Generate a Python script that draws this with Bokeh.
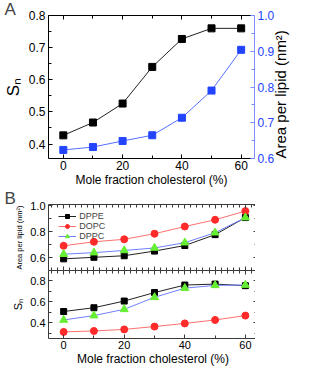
import math
from bokeh.plotting import figure
from bokeh.models import (Range1d, LinearAxis, SingleIntervalTicker, Legend, LegendItem,
                          Title, PrintfTickFormatter, CustomJSTickFormatter)
from bokeh.layouts import column
from bokeh.embed import file_html
from bokeh.resources import INLINE

# ---------------- data ----------------
chol = [0, 10, 20, 30, 40, 50, 60]
a_sn = [0.427, 0.467, 0.526, 0.640, 0.727, 0.760, 0.760]
a_area = [0.624, 0.632, 0.649, 0.665, 0.714, 0.790, 0.904]

b_area_dppe = [0.590, 0.602, 0.614, 0.650, 0.693, 0.777, 0.909]
b_area_dopc = [0.691, 0.722, 0.741, 0.784, 0.840, 0.892, 0.959]
b_area_dppc = [0.626, 0.638, 0.655, 0.674, 0.715, 0.792, 0.909]

b_sn_dppe = [0.508, 0.544, 0.608, 0.689, 0.761, 0.770, 0.755]
b_sn_dopc = [0.313, 0.322, 0.337, 0.364, 0.394, 0.427, 0.469]
b_sn_dppc = [0.427, 0.469, 0.529, 0.644, 0.731, 0.758, 0.761]

series_names = ["DPPE", "DOPC", "DPPC"]

FONT = "Liberation Sans"
BLUE = "#2244ff"
BLUE_LINE = "#5570ff"
BLUE_AXIS = "#7b8fff"
RED = "#ff2a2a"
RED_LINE = "#ff7070"
GREEN = "#66ee33"
GREEN_LINE = "#7080ff"
B_AXIS = "#3a3a3a"


def style_axis(ax, color, label_size, show_labels=True, label_color=None,
               axis_label_size=None):
    ax.axis_line_color = color
    ax.axis_line_width = 1
    ax.major_tick_line_color = color
    ax.minor_tick_line_color = color
    ax.major_tick_in = 4
    ax.major_tick_out = 0
    ax.minor_tick_in = 3
    ax.minor_tick_out = 0
    ax.major_label_text_font = FONT
    ax.major_label_text_color = label_color or "black"
    ax.axis_label_text_font = FONT
    ax.axis_label_text_font_style = "normal"
    ax.axis_label_text_color = "black"
    if axis_label_size:
        ax.axis_label_text_font_size = axis_label_size
    ax.axis_label_standoff = 3
    if show_labels:
        ax.major_label_text_font_size = label_size
        ax.major_label_standoff = 3
    else:
        ax.formatter = CustomJSTickFormatter(code="return ''")
        ax.major_label_text_font_size = "1px"
        ax.major_label_standoff = 0


def base_fig(**kw):
    p = figure(output_backend="svg", toolbar_location=None, **kw)
    p.xgrid.visible = False
    p.ygrid.visible = False
    p.outline_line_color = None
    p.background_fill_color = "white"
    p.border_fill_color = "white"
    return p


def panel_title(text, standoff):
    return Title(text=text, align="left", offset=-44, standoff=standoff,
                 text_font=FONT, text_font_size="17px", text_font_style="normal")


# ---------------- panel A ----------------
pA = base_fig(frame_width=206, frame_height=143,
              x_range=Range1d(-5, 64.5), y_range=Range1d(0.355, 0.8),
              min_border_left=46, min_border_right=0,
              min_border_top=0, min_border_bottom=0)
pA.extra_y_ranges = {"area": Range1d(0.6, 1.0)}
pA.title = panel_title("A", -6)

pA.xaxis[0].ticker = SingleIntervalTicker(interval=20, num_minor_ticks=2)
pA.xaxis[0].axis_label = "Mole fraction cholesterol (%)"
style_axis(pA.xaxis[0], "black", "12px", axis_label_size="12px")
pA.xaxis[0].axis_label_standoff = 0
pA.xaxis[0].major_label_standoff = 2

pA.yaxis[0].ticker = SingleIntervalTicker(interval=0.1, num_minor_ticks=2)
pA.yaxis[0].formatter = PrintfTickFormatter(format="%.1f")
pA.yaxis[0].axis_label = "Sₙ"
style_axis(pA.yaxis[0], "black", "12px", axis_label_size="17px")

topA = LinearAxis(ticker=SingleIntervalTicker(interval=20, num_minor_ticks=2))
style_axis(topA, "black", "12px", show_labels=False)
pA.add_layout(topA, "above")

rightA = LinearAxis(y_range_name="area",
                    ticker=SingleIntervalTicker(interval=0.1, num_minor_ticks=2),
                    formatter=PrintfTickFormatter(format="%.1f"),
                    axis_label="Area per lipid (nm²)")
style_axis(rightA, BLUE_AXIS, "12px", label_color=BLUE, axis_label_size="15px")
try:
    rightA.axis_label_orientation = math.pi / 2
    rightA.axis_label_align = "start"
except Exception:
    pass
pA.add_layout(rightA, "right")

pA.line(chol, a_sn, line_color="#222222", line_width=1)
pA.scatter(chol, a_sn, marker="square", size=7, fill_color="black", line_color="black")
pA.line(chol, a_area, y_range_name="area", line_color=BLUE_LINE, line_width=1)
pA.scatter(chol, a_area, y_range_name="area", marker="square", size=7,
           fill_color=BLUE, line_color=BLUE)

# ---------------- panel B ----------------
xB = Range1d(-5, 64)

pB1 = base_fig(frame_width=209, frame_height=66, x_range=xB, y_range=Range1d(0.5, 1.01),
               min_border_left=46, min_border_right=0,
               min_border_top=0, min_border_bottom=0)
pB1.title = panel_title("B", -6)
pB1.yaxis[0].ticker = SingleIntervalTicker(interval=0.2, num_minor_ticks=2)
pB1.yaxis[0].formatter = PrintfTickFormatter(format="%.1f")
pB1.yaxis[0].axis_label = "Area per lipid (nm²)"
style_axis(pB1.yaxis[0], B_AXIS, "11px", axis_label_size="7.5px")
pB1.xaxis[0].ticker = SingleIntervalTicker(interval=10)
style_axis(pB1.xaxis[0], B_AXIS, "11px", show_labels=False)
for side, tk in (("above", SingleIntervalTicker(interval=10)),
                 ("right", SingleIntervalTicker(interval=0.2, num_minor_ticks=2))):
    ax = LinearAxis(ticker=tk)
    style_axis(ax, B_AXIS, "11px", show_labels=False)
    pB1.add_layout(ax, side)

r1l = pB1.line(chol, b_area_dppe, line_color="#222222", line_width=1)
r1s = pB1.scatter(chol, b_area_dppe, marker="square", size=6, fill_color="black", line_color="black")
r2l = pB1.line(chol, b_area_dopc, line_color=RED_LINE, line_width=1)
r2s = pB1.scatter(chol, b_area_dopc, marker="circle", size=7, fill_color=RED, line_color=RED)
r3l = pB1.line(chol, b_area_dppc, line_color=GREEN_LINE, line_width=1)
r3s = pB1.scatter(chol, b_area_dppc, marker="triangle", size=8, fill_color=GREEN, line_color=GREEN)

legend = Legend(items=[LegendItem(label=series_names[0], renderers=[r1l, r1s]),
                       LegendItem(label=series_names[1], renderers=[r2l, r2s]),
                       LegendItem(label=series_names[2], renderers=[r3l, r3s])],
                location=(19, 29))
legend.border_line_color = None
legend.background_fill_alpha = 0
legend.padding = 0
legend.margin = 0
legend.spacing = 0
legend.glyph_width = 18
legend.glyph_height = 10
legend.label_height = 10
legend.label_standoff = 3
legend.label_text_font = FONT
legend.label_text_font_size = "9px"
pB1.add_layout(legend)

pB2 = base_fig(frame_width=209, frame_height=68, x_range=xB, y_range=Range1d(0.25, 0.9),
               min_border_left=46, min_border_right=0,
               min_border_top=0, min_border_bottom=0)
pB2.yaxis[0].ticker = SingleIntervalTicker(interval=0.2, num_minor_ticks=2)
pB2.yaxis[0].formatter = PrintfTickFormatter(format="%.1f")
pB2.yaxis[0].axis_label = "Sₙ"
style_axis(pB2.yaxis[0], B_AXIS, "11px", axis_label_size="11px")
pB2.xaxis[0].ticker = SingleIntervalTicker(interval=20, num_minor_ticks=2)
pB2.xaxis[0].axis_label = "Mole fraction cholesterol (%)"
style_axis(pB2.xaxis[0], B_AXIS, "11px", axis_label_size="12px")
pB2.xaxis[0].axis_label_standoff = 0
pB2.xaxis[0].major_label_standoff = 2
for side, tk in (("above", SingleIntervalTicker(interval=10)),
                 ("right", SingleIntervalTicker(interval=0.2, num_minor_ticks=2))):
    ax = LinearAxis(ticker=tk)
    style_axis(ax, B_AXIS, "11px", show_labels=False)
    pB2.add_layout(ax, side)

pB2.line(chol, b_sn_dppe, line_color="#222222", line_width=1)
pB2.scatter(chol, b_sn_dppe, marker="square", size=6, fill_color="black", line_color="black")
pB2.line(chol, b_sn_dopc, line_color=RED_LINE, line_width=1)
pB2.scatter(chol, b_sn_dopc, marker="circle", size=7, fill_color=RED, line_color=RED)
pB2.line(chol, b_sn_dppc, line_color=GREEN_LINE, line_width=1)
pB2.scatter(chol, b_sn_dppc, marker="triangle", size=8, fill_color=GREEN, line_color=GREEN)

layout = column(pA, pB1, pB2, spacing=0)
open("out.html", "w").write(file_html(layout, INLINE))
